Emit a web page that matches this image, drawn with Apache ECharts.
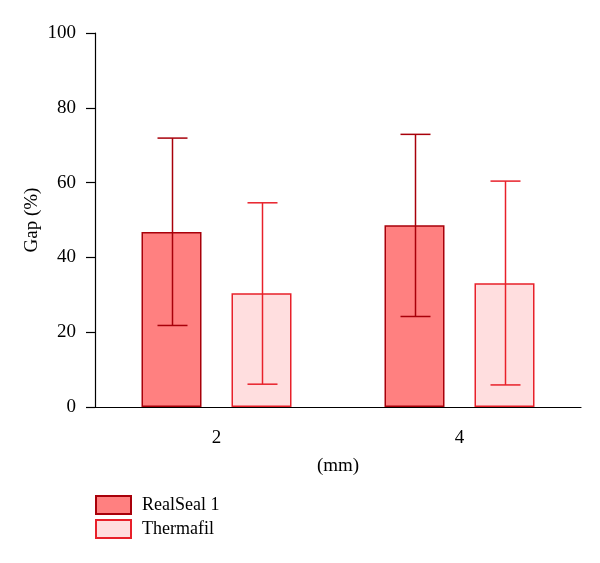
<!DOCTYPE html>
<html>
<head>
<meta charset="utf-8">
<script src="https://cdn.jsdelivr.net/npm/echarts@6/dist/echarts.min.js"></script>
<style>html,body{margin:0;padding:0;background:#fff}#c{width:600px;height:563px}</style>
</head>
<body>
<div id="c"></div>
<script>
var categories = ['2', '4'];
var seriesNames = ['RealSeal 1', 'Thermafil'];
var realSealMean = [46.8, 48.6];
var realSealLow = [21.8, 24.2];
var realSealHigh = [71.9, 72.9];
var thermafilMean = [30.4, 33.1];
var thermafilLow = [6.1, 5.9];
var thermafilHigh = [54.6, 60.4];
var yTicks = [0, 20, 40, 60, 80, 100];

var FONT = 'Liberation Serif';
var BAR_W = 60, BAR_GAP = 30;
var chart = echarts.init(document.getElementById('c'));

function errSeries(name, low, high, color, offset) {
  var data = low.map(function (l, i) { return [i, l, high[i]]; });
  return {
    type: 'custom',
    name: name + ' err',
    z: 10,
    silent: true,
    data: data,
    encode: { x: 0, y: [1, 2] },
    renderItem: function (params, api) {
      var i = api.value(0);
      var lo = api.coord([i, api.value(1)]);
      var hi = api.coord([i, api.value(2)]);
      var x = Math.round(lo[0] + offset) + 0.5;
      var hw = BAR_W / 4;
      var st = { stroke: color, lineWidth: 1.5 };
      return {
        type: 'group',
        children: [
          { type: 'line', shape: { x1: x, y1: lo[1], x2: x, y2: hi[1] }, style: st },
          { type: 'line', shape: { x1: x - hw, y1: lo[1], x2: x + hw, y2: lo[1] }, style: st },
          { type: 'line', shape: { x1: x - hw, y1: hi[1], x2: x + hw, y2: hi[1] }, style: st }
        ]
      };
    }
  };
}

var off = (BAR_W + BAR_GAP) / 2;

chart.setOption({
  animation: false,
  textStyle: { fontFamily: FONT },
  grid: { left: 95, right: 19, top: 33, bottom: 156, containLabel: false },
  legend: {
    orient: 'vertical',
    left: 95,
    top: 495,
    padding: 0,
    itemWidth: 35,
    itemHeight: 18,
    itemGap: 4,
    icon: 'rect',
    data: seriesNames,
    textStyle: { fontFamily: FONT, fontSize: 18, color: '#000', padding: [0, 0, 0, 6] }
  },
  xAxis: {
    type: 'category',
    data: categories,
    name: '(mm)',
    nameLocation: 'middle',
    nameGap: 50,
    nameMoveOverlap: false,
    nameTextStyle: { fontFamily: FONT, fontSize: 19, color: '#000' },
    axisLine: { lineStyle: { color: '#000', width: 1.2 } },
    axisTick: { alignWithLabel: true, length: 9, lineStyle: { color: '#000', width: 1.2 } },
    axisLabel: { fontFamily: FONT, fontSize: 19, color: '#000', margin: 22 },
    splitLine: { show: false }
  },
  yAxis: {
    type: 'value',
    min: 0,
    max: 100,
    interval: 20,
    name: 'Gap (%)',
    nameLocation: 'middle',
    nameRotate: 90,
    nameGap: 53,
    nameMoveOverlap: false,
    nameTextStyle: { fontFamily: FONT, fontSize: 19, color: '#000' },
    axisLine: { show: true, lineStyle: { color: '#000', width: 1.2 } },
    axisTick: { show: true, length: 9, lineStyle: { color: '#000', width: 1.2 } },
    axisLabel: {
      fontFamily: FONT, fontSize: 19, color: '#000', margin: 19,
      formatter: function (v) { return yTicks.indexOf(v) >= 0 ? String(v) : ''; }
    },
    splitLine: { show: false }
  },
  series: [
    {
      type: 'bar', name: seriesNames[0], data: realSealMean,
      barWidth: BAR_W, barGap: '50%',
      itemStyle: { color: '#FF8080', borderColor: '#A8000A', borderWidth: 1.5 }
    },
    {
      type: 'bar', name: seriesNames[1], data: thermafilMean,
      barWidth: BAR_W,
      itemStyle: { color: '#FFDEDF', borderColor: '#E8202A', borderWidth: 1.5 }
    },
    errSeries(seriesNames[0], realSealLow, realSealHigh, '#A8000A', -off),
    errSeries(seriesNames[1], thermafilLow, thermafilHigh, '#E8202A', off)
  ]
});
</script>
</body>
</html>
